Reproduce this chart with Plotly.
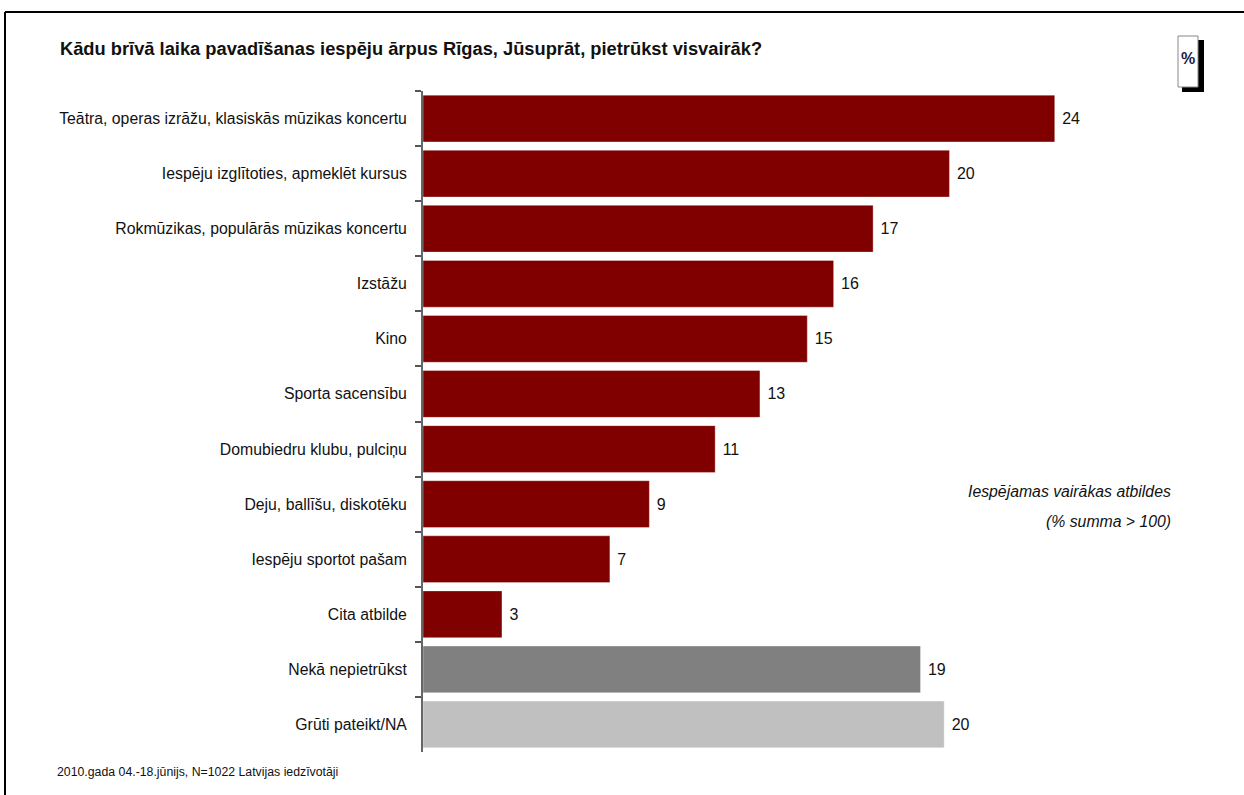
import plotly.graph_objects as go

categories = [
    "Teātra, operas izrāžu, klasiskās mūzikas koncertu",
    "Iespēju izglītoties, apmeklēt kursus",
    "Rokmūzikas, populārās mūzikas koncertu",
    "Izstāžu",
    "Kino",
    "Sporta sacensību",
    "Domubiedru klubu, pulciņu",
    "Deju, ballīšu, diskotēku",
    "Iespēju sportot pašam",
    "Cita atbilde",
    "Nekā nepietrūkst",
    "Grūti pateikt/NA",
]
values = [24.0, 20.0, 17.1, 15.6, 14.6, 12.8, 11.1, 8.6, 7.1, 3.0, 18.9, 19.8]
labels = ["24", "20", "17", "16", "15", "13", "11", "9", "7", "3", "19", "20"]
colors = ["#800000"] * 10 + ["#808080", "#C0C0C0"]

title_text = "Kādu brīvā laika pavadīšanas iespēju ārpus Rīgas, Jūsuprāt, pietrūkst visvairāk?"
note_lines = ["Iespējamas vairākas atbildes", "(% summa > 100)"]
footer_text = "2010.gada 04.-18.jūnijs, N=1022 Latvijas iedzīvotāji"

FW, FH = 1244, 795
ML, MR, MT, MB = 423, 5, 91, 43
PW, PH = FW - ML - MR, FH - MT - MB


def px(x):
    return (x - ML) / PW


def py(y):
    return (FH - MB - y) / PH


FONT = "Liberation Sans, Arial, sans-serif"

fig = go.Figure(
    go.Bar(
        x=values,
        y=categories,
        orientation="h",
        marker=dict(color=colors, line=dict(color="rgba(255,255,255,0.35)", width=1)),
        text=labels,
        texttemplate="\u00a0%{text}",
        textposition="outside",
        textfont=dict(family=FONT, size=16, color="#111111"),
        cliponaxis=False,
        hoverinfo="x+y",
    )
)

fig.update_layout(
    width=FW,
    height=FH,
    margin=dict(l=ML, r=MR, t=MT, b=MB),
    paper_bgcolor="white",
    plot_bgcolor="white",
    bargap=0.15,
    showlegend=False,
    font=dict(family=FONT, size=16, color="#111111"),
    xaxis=dict(range=[0, 31], visible=False, fixedrange=True),
    yaxis=dict(
        autorange="reversed",
        showline=True,
        linecolor="#666666",
        linewidth=2,
        ticks="outside",
        ticklen=6,
        tickwidth=2,
        tickcolor="#555555",
        tickson="boundaries",
        ticklabelstandoff=11,
        tickfont=dict(family=FONT, size=15.8, color="#111111"),
        showgrid=False,
        zeroline=False,
        fixedrange=True,
    ),
)

annotations = [
    dict(text="<b>" + title_text + "</b>", x=px(58), y=py(48), xref="paper", yref="paper",
         xanchor="left", yanchor="middle", showarrow=False,
         font=dict(family=FONT, size=18.3, color="#111111")),
    dict(text="<i>" + note_lines[0] + "</i>", x=px(1173), y=py(492), xref="paper", yref="paper",
         xanchor="right", yanchor="middle", showarrow=False,
         font=dict(family=FONT, size=15.8, color="#111111")),
    dict(text="<i>" + note_lines[1] + "</i>", x=px(1173), y=py(521), xref="paper", yref="paper",
         xanchor="right", yanchor="middle", showarrow=False,
         font=dict(family=FONT, size=15.8, color="#111111")),
    dict(text=footer_text, x=px(55), y=py(772), xref="paper", yref="paper",
         xanchor="left", yanchor="middle", showarrow=False,
         font=dict(family=FONT, size=12.3, color="#111111")),
    dict(text="<b>%</b>", x=px(1188), y=py(59), xref="paper", yref="paper",
         xanchor="center", yanchor="middle", showarrow=False,
         font=dict(family=FONT, size=16, color="#1a1a4a")),
]

shapes = [
    # frame
    dict(type="line", xref="paper", yref="paper", x0=px(5), x1=px(1250), y0=py(12), y1=py(12),
         line=dict(color="black", width=2)),
    dict(type="line", xref="paper", yref="paper", x0=px(5), x1=px(5), y0=py(12), y1=py(800),
         line=dict(color="black", width=2)),
    # % box shadow
    dict(type="rect", xref="paper", yref="paper", x0=px(1182), x1=px(1204), y0=py(40), y1=py(92),
         fillcolor="black", line=dict(width=0)),
    # % box
    dict(type="rect", xref="paper", yref="paper", x0=px(1178), x1=px(1198), y0=py(36), y1=py(87),
         fillcolor="white", line=dict(color="#888888", width=1)),
]

fig.update_layout(annotations=annotations, shapes=shapes)

fig.write_html(
    "out.html",
    config={"displayModeBar": False},
    post_script="document.body.style.margin='0';document.body.style.padding='0';",
)
